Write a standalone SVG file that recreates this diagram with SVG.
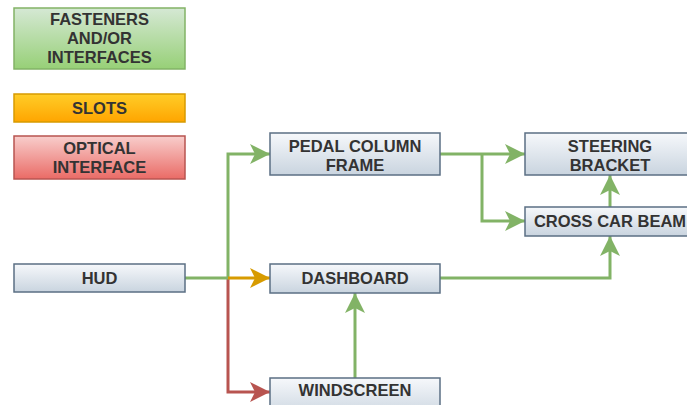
<svg xmlns="http://www.w3.org/2000/svg" width="687" height="405" viewBox="0 0 687 405">
  <defs>
    <linearGradient id="gNode" x1="0" y1="0" x2="0" y2="1">
      <stop offset="0" stop-color="#f6f8fb"/>
      <stop offset="1" stop-color="#c9d4df"/>
    </linearGradient>
    <linearGradient id="gGreen" x1="0" y1="0" x2="0" y2="1">
      <stop offset="0" stop-color="#d5e8d4"/>
      <stop offset="1" stop-color="#97d077"/>
    </linearGradient>
    <linearGradient id="gOrange" x1="0" y1="0" x2="0" y2="1">
      <stop offset="0" stop-color="#ffcd28"/>
      <stop offset="1" stop-color="#ffa500"/>
    </linearGradient>
    <linearGradient id="gRed" x1="0" y1="0" x2="0" y2="1">
      <stop offset="0" stop-color="#f8cecc"/>
      <stop offset="1" stop-color="#ea6b66"/>
    </linearGradient>
    <marker id="aGreen" markerUnits="userSpaceOnUse" markerWidth="22" markerHeight="22" refX="20" refY="10" orient="auto" viewBox="0 0 22 22">
      <path d="M0,0 L20,10 L0,20 L5,10 Z" fill="#82b366"/>
    </marker>
    <marker id="aOrange" markerUnits="userSpaceOnUse" markerWidth="22" markerHeight="22" refX="20" refY="10" orient="auto" viewBox="0 0 22 22">
      <path d="M0,0 L20,10 L0,20 L5,10 Z" fill="#d79b00"/>
    </marker>
    <marker id="aRed" markerUnits="userSpaceOnUse" markerWidth="22" markerHeight="22" refX="20" refY="10" orient="auto" viewBox="0 0 22 22">
      <path d="M0,0 L20,10 L0,20 L5,10 Z" fill="#b85450"/>
    </marker>
  </defs>
  <style>
    text { font-family: "Liberation Sans", Arial, sans-serif; font-size: 16.5px; font-weight: bold; fill: #333333; text-anchor: middle; }
    .node rect { fill: url(#gNode); stroke: #5b6f84; stroke-width: 1.5; }
    .edge { fill: none; stroke-width: 3; }
    .green { stroke: #82b366; marker-end: url(#aGreen); }
    .orange { stroke: #d79b00; marker-end: url(#aOrange); }
    .red { stroke: #b85450; marker-end: url(#aRed); }
  </style>
  <rect width="687" height="405" fill="#ffffff"/>

  <!-- legend -->
  <g id="legend-fasteners">
    <rect x="14" y="8" width="171" height="61" fill="url(#gGreen)" stroke="#82b366" stroke-width="1.5"/>
    <text x="99.5" y="25">FASTENERS</text>
    <text x="99.5" y="44">AND/OR</text>
    <text x="99.5" y="63">INTERFACES</text>
  </g>
  <g id="legend-slots">
    <rect x="14" y="94" width="171" height="28" fill="url(#gOrange)" stroke="#d79b00" stroke-width="1.5"/>
    <text x="99.5" y="114">SLOTS</text>
  </g>
  <g id="legend-optical">
    <rect x="14" y="136" width="171" height="43" fill="url(#gRed)" stroke="#b85450" stroke-width="1.5"/>
    <text x="99.5" y="154">OPTICAL</text>
    <text x="99.5" y="173">INTERFACE</text>
  </g>

  <!-- connectors -->
  <g id="connectors">
    <path class="edge red" d="M228,278 V392 H270"/>
    <path class="edge green" d="M185,278 H228 V154 H270"/>
    <path class="edge orange" d="M228,278 H270"/>
    <path class="edge green" d="M440,154 H525"/>
    <path class="edge green" d="M482,154 V221 H525"/>
    <path class="edge green" d="M610,207 V175"/>
    <path class="edge green" d="M440,278 H610 V236"/>
    <path class="edge green" d="M355,378 V293"/>
  </g>

  <!-- nodes -->
  <g id="hud" class="node">
    <rect x="14" y="264" width="171" height="28"/>
    <text x="99.5" y="284">HUD</text>
  </g>
  <g id="pedal-column-frame" class="node">
    <rect x="270" y="133" width="170" height="42"/>
    <text x="355" y="152">PEDAL COLUMN</text>
    <text x="355" y="171">FRAME</text>
  </g>
  <g id="dashboard" class="node">
    <rect x="270" y="264" width="170" height="29"/>
    <text x="355" y="284">DASHBOARD</text>
  </g>
  <g id="windscreen" class="node">
    <rect x="270" y="378" width="170" height="40"/>
    <text x="355" y="396">WINDSCREEN</text>
  </g>
  <g id="steering-bracket" class="node">
    <rect x="525" y="133" width="170" height="42"/>
    <text x="610" y="152">STEERING</text>
    <text x="610" y="171">BRACKET</text>
  </g>
  <g id="cross-car-beam" class="node">
    <rect x="525" y="207" width="170" height="29"/>
    <text x="610" y="227">CROSS CAR BEAM</text>
  </g>
</svg>
